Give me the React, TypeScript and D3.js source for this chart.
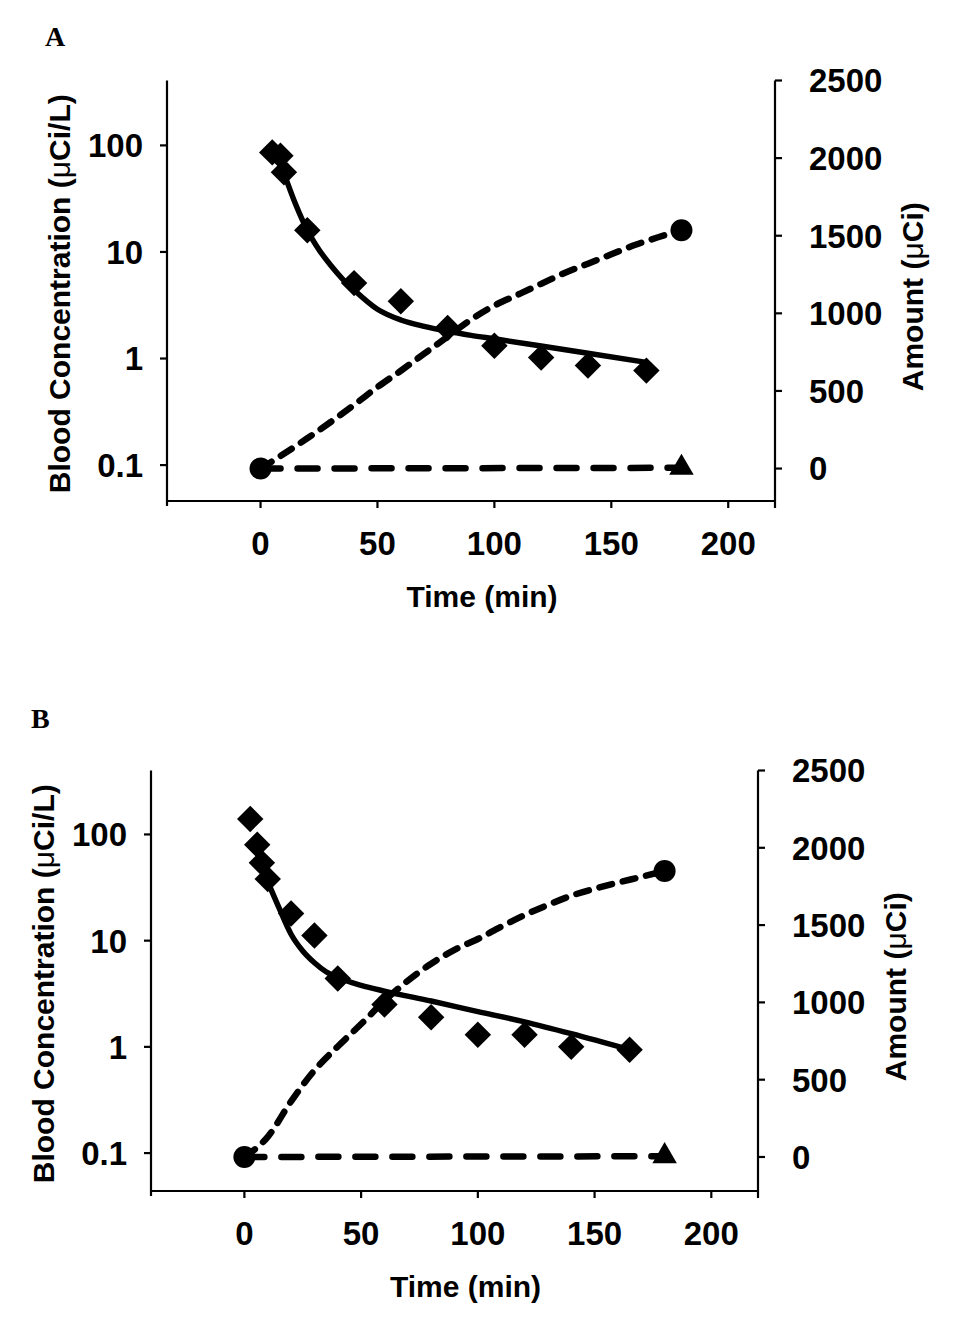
import * as d3 from "d3";

// shared tick values
const timeTicks = [0, 50, 100, 150, 200];
const concTicks = [0.1, 1, 10, 100];
const amountTicks = [0, 500, 1000, 1500, 2000, 2500];
const concTickLabels = ["0.1", "1", "10", "100"];

// Panel A: blood concentration (observed + fit), cumulative amounts
const aObsTime = [5, 8.5, 10, 20, 40, 60, 80, 100, 120, 140, 165];
const aObsConc = [86, 80, 56, 16, 5.1, 3.45, 1.93, 1.32, 1.02, 0.86, 0.77];
const aFitTime = [10, 15, 20, 25, 30, 35, 40, 50, 60, 70, 80, 90, 100, 120, 140, 165];
const aFitConc = [55, 28, 16, 10.5, 7.5, 5.6, 4.4, 2.9, 2.3, 2.0, 1.8, 1.65, 1.53, 1.31, 1.12, 0.92];
const aCumTime = [0, 10, 20, 30, 40, 50, 60, 70, 80, 90, 100, 110, 120, 130, 140, 150, 160, 170, 180];
const aCumAmount = [0, 95, 195, 300, 410, 525, 630, 740, 850, 960, 1050, 1120, 1190, 1260, 1320, 1380, 1440, 1490, 1535];
const aFlatTime = [0, 180];
const aFlatAmount = [0, 5];

// Panel B
const bObsTime = [2.5, 5.5, 7.5, 10, 20, 30, 40, 60, 80, 100, 120, 140, 165];
const bObsConc = [140, 80, 54, 38, 18, 11.2, 4.4, 2.5, 1.9, 1.3, 1.3, 1.0, 0.94];
const bFitTime = [10, 15, 20, 25, 30, 35, 40, 50, 60, 80, 100, 120, 140, 165];
const bFitConc = [36, 20, 11.5, 8, 6.2, 5.1, 4.5, 3.8, 3.35, 2.7, 2.15, 1.72, 1.33, 0.94];
const bCumTime = [0, 10, 20, 30, 40, 50, 60, 70, 80, 90, 100, 110, 120, 130, 140, 150, 160, 170, 180];
const bCumAmount = [0, 130, 360, 560, 715, 860, 1010, 1140, 1250, 1340, 1410, 1490, 1565, 1630, 1690, 1735, 1775, 1812, 1850];
const bFlatTime = [0, 180];
const bFlatAmount = [0, 5];

interface PanelData {
  letter: string;
  obsTime: number[];
  obsConc: number[];
  fitTime: number[];
  fitConc: number[];
  cumTime: number[];
  cumAmount: number[];
  flatTime: number[];
  flatAmount: number[];
}

interface Layout {
  left: number;
  right: number;
  top: number;
  bottom: number;
  concDomain: [number, number];
  amountMin: number;
  letterX: number;
  letterY: number;
}

const FONT = "'Liberation Sans', Arial, sans-serif";
const SERIF = "'Liberation Serif', 'Times New Roman', serif";

function Panel({ d, l }: { d: PanelData; l: Layout }) {
  const x = d3.scaleLinear().domain([-40, 220]).range([l.left, l.right]);
  const y = d3.scaleLog().domain(l.concDomain).range([l.bottom, l.top]);
  const y2 = d3.scaleLinear().domain([l.amountMin, 2500]).range([l.bottom, l.top]);

  const concLine = d3
    .line<number>()
    .x((_v, i) => x(d.fitTime[i]))
    .y((v) => y(v))
    .curve(d3.curveMonotoneX);
  const cumLine = d3
    .line<number>()
    .x((_v, i) => x(d.cumTime[i]))
    .y((v) => y2(v))
    .curve(d3.curveMonotoneX);
  const flatLine = d3
    .line<number>()
    .x((_v, i) => x(d.flatTime[i]))
    .y((v) => y2(v));

  const diamond = d3.symbol().type(d3.symbolSquare).size(350)()!;
  const triangle = d3.symbol().type(d3.symbolTriangle).size(260)()!;

  const midY = (l.top + l.bottom) / 2;
  const midX = (l.left + l.right) / 2;
  const last = d.cumAmount.length - 1;

  return (
    <g>
      <text x={l.letterX} y={l.letterY} fontFamily={SERIF} fontWeight="bold" fontSize={28}>
        {d.letter}
      </text>

      {/* axes */}
      <g stroke="#000" strokeWidth={2.2} fill="none">
        <line x1={l.left} x2={l.left} y1={l.top} y2={l.bottom + 5} />
        <line x1={l.right} x2={l.right} y1={l.top} y2={l.bottom + 7} />
        <line x1={l.left} x2={l.right} y1={l.bottom} y2={l.bottom} />
        {timeTicks.map((t) => (
          <line key={t} x1={x(t)} x2={x(t)} y1={l.bottom} y2={l.bottom + 7} />
        ))}
        {concTicks.map((c) => (
          <line key={c} x1={l.left - 7} x2={l.left} y1={y(c)} y2={y(c)} />
        ))}
        {amountTicks.map((a) => (
          <line key={a} x1={l.right} x2={l.right + 7} y1={y2(a)} y2={y2(a)} />
        ))}
      </g>

      <g fontFamily={FONT} fontWeight="bold" fontSize={33} fill="#000">
        {timeTicks.map((t) => (
          <text key={t} x={x(t)} y={l.bottom + 54} textAnchor="middle">
            {t}
          </text>
        ))}
        {concTicks.map((c, i) => (
          <text key={c} x={l.left - 24} y={y(c)} dy="0.36em" textAnchor="end">
            {concTickLabels[i]}
          </text>
        ))}
        {amountTicks.map((a) => (
          <text key={a} x={l.right + 34} y={y2(a)} dy="0.36em">
            {a}
          </text>
        ))}
      </g>

      <g fontFamily={FONT} fontWeight="bold" fontSize={30} fill="#000">
        <text x={midX + 11} y={l.bottom + 106} textAnchor="middle">
          Time (min)
        </text>
        <text
          transform={`translate(${l.left - 97},${midY + 3}) rotate(-90)`}
          textAnchor="middle"
        >
          Blood Concentration (<tspan fontWeight="normal">μ</tspan>Ci/L)
        </text>
        <text
          transform={`translate(${l.right + 148},${midY + 6}) rotate(-90)`}
          textAnchor="middle"
        >
          Amount (<tspan fontWeight="normal">μ</tspan>Ci)
        </text>
      </g>

      {/* series */}
      <path
        d={flatLine(d.flatAmount)!}
        fill="none"
        stroke="#000"
        strokeWidth={6.5}
        strokeDasharray="20 17"
        strokeLinecap="round"
      />
      <path
        d={cumLine(d.cumAmount)!}
        fill="none"
        stroke="#000"
        strokeWidth={6.5}
        strokeDasharray="13 11"
        strokeLinecap="round"
      />
      <path d={concLine(d.fitConc)!} fill="none" stroke="#000" strokeWidth={5.5} />

      {d.obsConc.map((c, i) => (
        <path
          key={i}
          d={diamond}
          transform={`translate(${x(d.obsTime[i])},${y(c)}) rotate(45)`}
          fill="#000"
        />
      ))}
      <circle cx={x(d.cumTime[0])} cy={y2(d.cumAmount[0])} r={11} fill="#000" />
      <circle cx={x(d.cumTime[last])} cy={y2(d.cumAmount[last])} r={11} fill="#000" />
      <path
        d={triangle}
        transform={`translate(${x(d.flatTime[1])},${y2(d.flatAmount[1])})`}
        fill="#000"
      />
    </g>
  );
}

const panelA: PanelData = {
  letter: "A",
  obsTime: aObsTime,
  obsConc: aObsConc,
  fitTime: aFitTime,
  fitConc: aFitConc,
  cumTime: aCumTime,
  cumAmount: aCumAmount,
  flatTime: aFlatTime,
  flatAmount: aFlatAmount,
};

const panelB: PanelData = {
  letter: "B",
  obsTime: bObsTime,
  obsConc: bObsConc,
  fitTime: bFitTime,
  fitConc: bFitConc,
  cumTime: bCumTime,
  cumAmount: bCumAmount,
  flatTime: bFlatTime,
  flatAmount: bFlatAmount,
};

const layoutA: Layout = {
  left: 167,
  right: 775,
  top: 80.5,
  bottom: 501,
  concDomain: [Math.pow(10, -1.337), Math.pow(10, 2.609)],
  amountMin: -209,
  letterX: 45,
  letterY: 46,
};

const layoutB: Layout = {
  left: 151,
  right: 758,
  top: 770.5,
  bottom: 1191,
  concDomain: [Math.pow(10, -1.357), Math.pow(10, 2.602)],
  amountMin: -220,
  letterX: 31,
  letterY: 728,
};

export default function App() {
  return (
    <svg
      width={954}
      height={1320}
      style={{ position: "absolute", left: 0, top: 0, background: "#fff" }}
    >
      <Panel d={panelA} l={layoutA} />
      <Panel d={panelB} l={layoutB} />
    </svg>
  );
}
